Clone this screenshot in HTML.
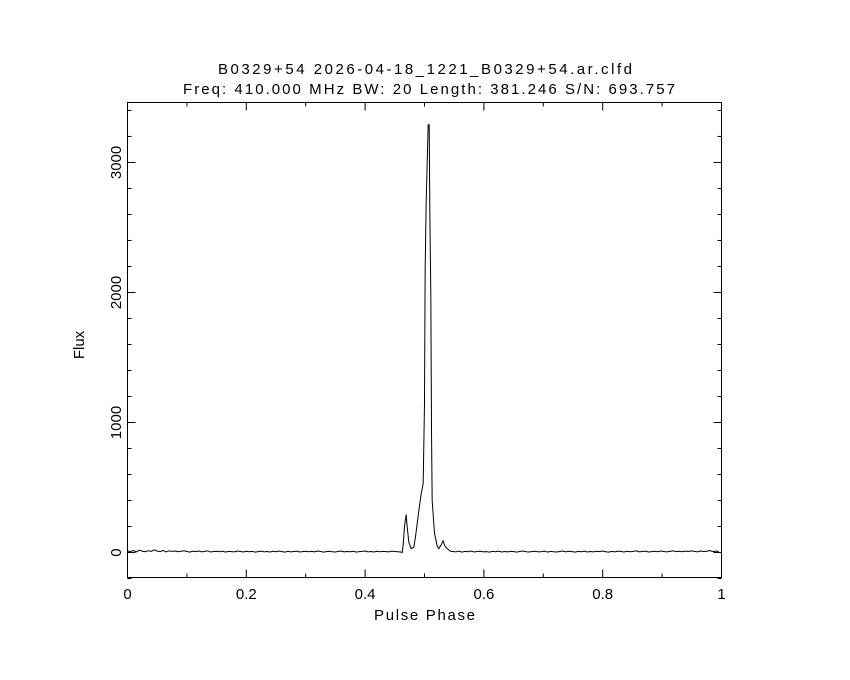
<!DOCTYPE html>
<html><head><meta charset="utf-8"><style>
html,body{margin:0;padding:0;background:#fff;width:850px;height:680px;overflow:hidden}
text{font-family:"Liberation Sans",sans-serif;font-size:15px;fill:#000}
</style></head><body>
<svg id="chart" width="850" height="680" xmlns="http://www.w3.org/2000/svg">
<text x="218" y="74" textLength="414" lengthAdjust="spacing">B0329+54 2026-04-18_1221_B0329+54.ar.clfd</text>
<text x="183" y="94" textLength="492" lengthAdjust="spacing">Freq: 410.000 MHz BW: 20 Length: 381.246 S/N: 693.757</text>
<text x="374" y="620" textLength="101" lengthAdjust="spacing">Pulse Phase</text>
<text x="0" y="0" text-anchor="middle" transform="translate(84,345) rotate(-90)">Flux</text>
<g id="axes"></g>
<path id="line" fill="none" stroke="#000" stroke-width="1"/>
<rect x="127.5" y="102.5" width="594" height="475" fill="none" stroke="#000" stroke-width="1"/>
</svg>
<script>
const xTicks=[0,0.2,0.4,0.6,0.8,1];
const xTickLabels=["0","0.2","0.4","0.6","0.8","1"];
const yTicks=[0,1000,2000,3000];
const yTickLabels=["0","1000","2000","3000"];
const baseLeft=[12,8,15,5,18,10,6,14,9,20,11,7,16,4,13,9,12,6,10,14,8,3,11,7,12,5,9,13,4,8,10,6,11,3,9,7,5,12,8,4,10,6,9,3,7,11,5,8,4,10,6,12,7,3,9,5,8,11,4,7,10,6,9,5,12,8,3,7,10,6,4,9,11,5,8,6,10,3,7,9,12,5,8,4,10,6,9,7,5,11,8,6,4];
const peakPhase=[0.4624,0.4641,0.4663,0.4691,0.4708,0.4736,0.4776,0.4820,0.4848,0.4876,0.4910,0.4944,0.4978,0.5000,0.5011,0.5028,0.5062,0.5079,0.5090,0.5107,0.5118,0.5129,0.5168,0.5213,0.5241,0.5281,0.5314,0.5342,0.5382,0.5438];
const peakFlux=[0,60,200,292,200,80,30,40,120,220,340,450,530,1150,2170,2690,3290,3290,2600,1960,940,400,150,50,30,60,90,50,30,10];
const baseRight=[8,5,11,3,9,6,12,4,8,10,5,7,3,9,6,11,4,8,5,10,7,3,9,12,6,4,8,10,5,7,11,3,9,6,4,8,12,5,10,7,3,9,6,11,4,8,5,10,7,12,6,3,9,5,11,8,4,10,6,9,13,5,8,11,4,7,10,6,12,8,5,9,14,7,10,6,11,8,13,9,5,12,8,10,15,7,11,9];
const L=127.5,R=721.5,T=102.5,B=577.5;
const Y0=-192,Y1=3461;
function xs(v){return L+(R-L)*v;}
function ys(v){return B-(B-T)*(v-Y0)/(Y1-Y0);}
const ns="http://www.w3.org/2000/svg";
const ax=document.getElementById('axes');
function ln(x1,y1,x2,y2,name){const e=document.createElementNS(ns,'line');e.setAttribute('x1',x1);e.setAttribute('y1',y1);e.setAttribute('x2',x2);e.setAttribute('y2',y2);e.setAttribute('stroke','#000');


ax.appendChild(e);}
function tx(x,y,s,name,rot){const e=document.createElementNS(ns,'text');e.textContent=s;e.setAttribute('text-anchor','middle');
if(rot){e.setAttribute('transform','translate('+x+','+y+') rotate(-90)');}else{e.setAttribute('x',x);e.setAttribute('y',y);}


ax.appendChild(e);}
for(let i=0;i<=10;i++){const v=i/10,x=xs(v),len=i%2?4:8;ln(x,B,x,B-len,'x-tick');ln(x,T,x,T+len,'x-tick-top');}
xTicks.forEach((v,i)=>tx(xs(v),599,xTickLabels[i],'x-tick-label'));
for(let v=-200;v<=3400;v+=200){const y=ys(v),len=v%1000===0?8:4;ln(L,y,L+len,y,'y-tick');ln(R,y,R-len,y,'y-tick-right');}
yTicks.forEach((v,i)=>tx(121,ys(v),yTickLabels[i],'y-tick-label',true));
let pts=[];
baseLeft.forEach((v,i)=>pts.push([i*0.005,v]));
peakPhase.forEach((p,i)=>pts.push([p,peakFlux[i]]));
baseRight.forEach((v,i)=>pts.push([0.5475+i*0.00515,v]));
document.getElementById('line').setAttribute('d',pts.map((p,i)=>(i?'L':'M')+xs(Math.min(p[0],1)).toFixed(2)+' '+ys(p[1]).toFixed(2)).join(' '));
</script>
</body></html>
